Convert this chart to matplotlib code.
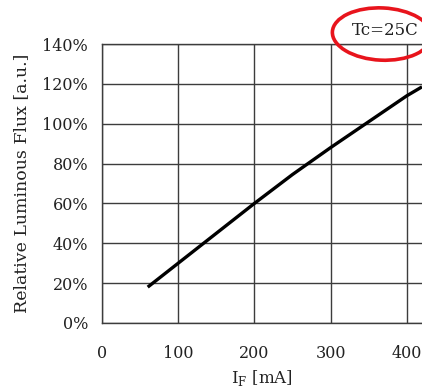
import matplotlib
matplotlib.use("Agg")
import matplotlib.pyplot as plt
from matplotlib.patches import Ellipse
from matplotlib.ticker import FuncFormatter

# Forward current vs relative luminous flux, Tc = 25C
current_ma = [60, 100, 150, 200, 250, 300, 350, 400, 420]
flux_pct = [18, 30, 45, 60, 74.5, 88, 101, 114, 118.5]

x_ticks = [0, 100, 200, 300, 400]
y_ticks = [0, 20, 40, 60, 80, 100, 120, 140]

plt.rcParams["font.family"] = ["DejaVu Serif"]

fig = plt.figure(figsize=(4.22, 3.87), dpi=100)
ax = fig.add_axes([0.2417, 0.1654, 0.7583, 0.7209])

ax.plot(current_ma, flux_pct, color="black", linewidth=2.4,
        solid_capstyle="butt", zorder=3)

ax.set_xlim(0, 420)
ax.set_ylim(0, 140)
ax.set_xticks(x_ticks)
ax.set_yticks(y_ticks)
ax.yaxis.set_major_formatter(FuncFormatter(lambda v, _: f"{v:.0f}%"))

ax.grid(True, color="#3c3c3c", linewidth=1.0)
ax.set_axisbelow(True)
for side in ["left", "bottom", "top"]:
    ax.spines[side].set_color("#3c3c3c")
    ax.spines[side].set_linewidth(1.0)
ax.spines["right"].set_visible(False)

ax.tick_params(length=0, labelsize=11.5, colors="#222222")
ax.tick_params(axis="x", pad=16)
ax.tick_params(axis="y", pad=10)

ax.set_xlabel(r"I$_\mathregular{F}$ [mA]", fontsize=12, labelpad=4,
              color="#222222")
ax.set_ylabel("Relative Luminous Flux [a.u.]", fontsize=12.5, labelpad=9,
              color="#222222")

# Test condition note with hand-drawn red circle
fig.text(0.913, 0.92, "Tc=25C", fontsize=12, ha="center", va="center",
         color="#222222")
fig.patches.append(Ellipse((0.905, 0.912), 0.235, 0.135,
                           transform=fig.transFigure, fill=False,
                           edgecolor="#e8141c", linewidth=2.6, angle=-3))

fig.savefig("out.png", dpi=100)
